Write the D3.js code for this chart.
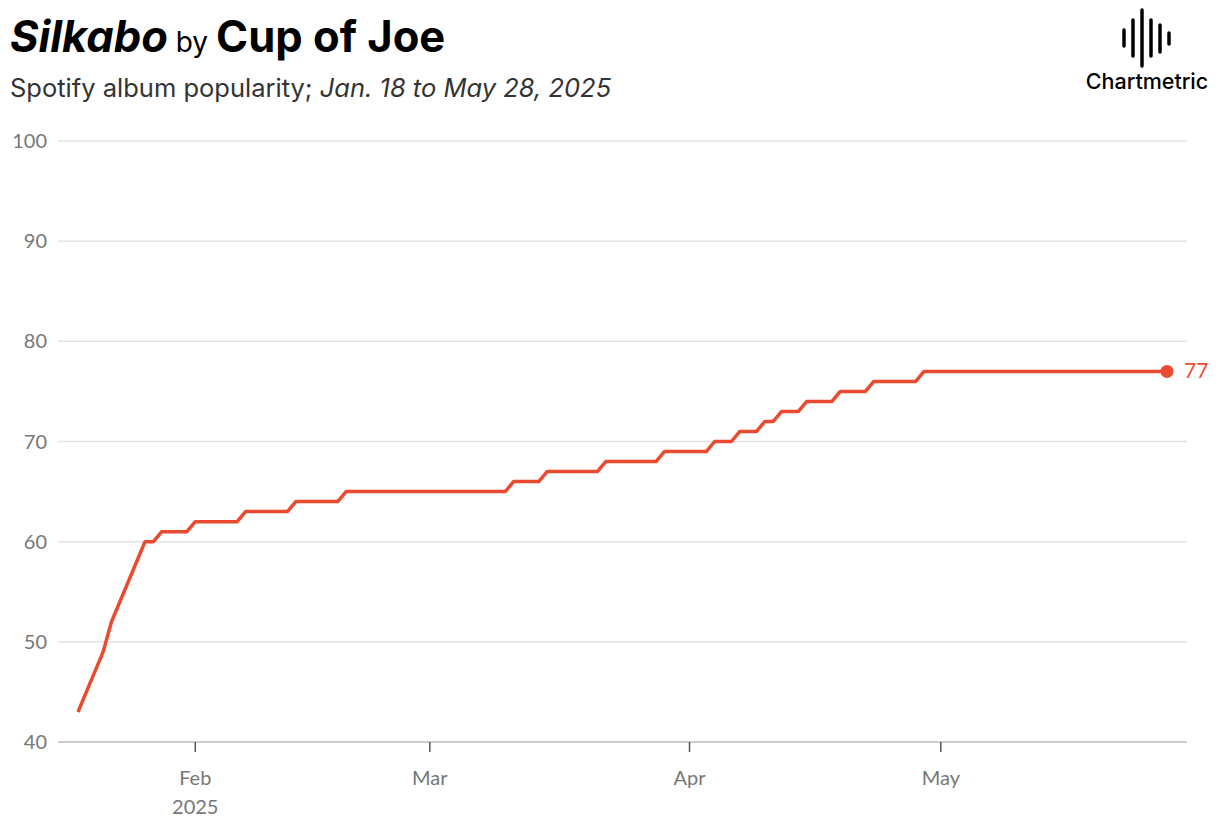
<!DOCTYPE html>
<html><head><meta charset="utf-8">
<script src="https://cdn.jsdelivr.net/npm/d3@7"></script>
<style>body{margin:0;background:#fff}</style>
</head><body><svg id="c" width="1220" height="834"></svg>
<script>
// daily popularity, Jan 18 to May 28, 2025
var startDate = "2025-01-18";
var janValues = [43,45,47,49,52,54,56,58,60,60,61,61,61,61];
var febValues = [62,62,62,62,62,62,63,63,63,63,63,63,64,64,64,64,64,64,65,65,65,65,65,65,65,65,65,65];
var marValues = [65,65,65,65,65,65,65,65,65,65,66,66,66,66,67,67,67,67,67,67,67,68,68,68,68,68,68,68,69,69,69];
var aprValues = [69,69,69,70,70,70,71,71,71,72,72,73,73,73,74,74,74,74,75,75,75,75,76,76,76,76,76,76,77,77];
var mayValues = [77,77,77,77,77,77,77,77,77,77,77,77,77,77,77,77,77,77,77,77,77,77,77,77,77,77,77,77];
var yTicks = [40,50,60,70,80,90,100];
var xTicks = ["2025-02-01","2025-03-01","2025-04-01","2025-05-01"];

var parse = d3.timeParse("%Y-%m-%d");
var values = [].concat(janValues, febValues, marValues, aprValues, mayValues);
var data = values.map(function(v, i){ return {date: d3.timeDay.offset(parse(startDate), i), value: v}; });

var svg = d3.select("#c");
var x = d3.scaleTime().domain([data[0].date, data[data.length-1].date]).range([78, 1167]);
var y = d3.scaleLinear().domain([40, 100]).range([742, 141]);

// title
var t = svg.append("text").attr("x", 10).attr("y", 52).attr("font-family", "Inter").attr("fill", "#000");
t.append("tspan").attr("font-size", 43.5).attr("font-weight", 700).attr("font-style", "italic").text("Silkabo");
t.append("tspan").attr("font-size", 28).text(" by ");
t.append("tspan").attr("font-size", 43.5).attr("font-weight", 700).text("Cup of Joe");
var s = svg.append("text").attr("x", 10).attr("y", 97).attr("font-family", "Inter").attr("font-size", 25.5).attr("fill", "#333");
s.append("tspan").text("Spotify album popularity; ");
s.append("tspan").attr("font-style", "italic").text("Jan. 18 to May 28, 2025");

// logo
var bars = [[1124,30,46],[1133,20,56],[1142,10,66],[1151,20,56],[1160,25,52],[1169,33,44]];
svg.selectAll(".logo").data(bars).enter().append("line")
  .attr("x1", function(d){return d[0];}).attr("x2", function(d){return d[0];})
  .attr("y1", function(d){return d[1];}).attr("y2", function(d){return d[2];})
  .attr("stroke", "#000").attr("stroke-width", 3.5).attr("stroke-linecap", "round");
svg.append("text").attr("x", 1147).attr("y", 89).attr("text-anchor", "middle")
  .attr("font-family", "Inter").attr("font-size", 21.5).attr("font-weight", 500).text("Chartmetric");

// grid
svg.selectAll(".grid").data(yTicks).enter().append("line")
  .attr("x1", 58).attr("x2", 1187).attr("y1", function(d){return y(d);}).attr("y2", function(d){return y(d);})
  .attr("stroke", function(d){return d===40 ? "#bbb" : "#e2e2e2";}).attr("stroke-width", 1.5);
svg.selectAll(".ylab").data(yTicks).enter().append("text")
  .attr("x", 47).attr("y", function(d){return y(d)+7;}).attr("text-anchor", "end")
  .attr("font-family", "Lato").attr("font-size", 20).attr("fill", "#777").text(function(d){return d;});

// x axis
var xt = xTicks.map(parse);
svg.selectAll(".xt").data(xt).enter().append("line")
  .attr("x1", function(d){return x(d);}).attr("x2", function(d){return x(d);})
  .attr("y1", 742).attr("y2", 752).attr("stroke", "#555").attr("stroke-width", 1.5);
svg.selectAll(".xl").data(xt).enter().append("text")
  .attr("x", function(d){return x(d);}).attr("y", 785).attr("text-anchor", "middle")
  .attr("font-family", "Lato").attr("font-size", 20).attr("fill", "#777").text(d3.timeFormat("%b"));
svg.append("text").attr("x", x(xt[0])).attr("y", 814).attr("text-anchor", "middle")
  .attr("font-family", "Lato").attr("font-size", 20).attr("fill", "#777").text("2025");

// line
var line = d3.line().x(function(d){return x(d.date);}).y(function(d){return y(d.value);});
svg.append("path").datum(data).attr("d", line).attr("fill", "none")
  .attr("stroke", "#ea4a2f").attr("stroke-width", 3.5).attr("stroke-linejoin", "round");
var last = data[data.length-1];
svg.append("circle").attr("cx", x(last.date)).attr("cy", y(last.value)).attr("r", 6.5).attr("fill", "#ea4a2f");
svg.append("text").attr("x", x(last.date)+17).attr("y", y(last.value)+7)
  .attr("font-family", "Lato").attr("font-size", 21).attr("fill", "#ea4a2f").text(last.value);
</script></body></html>
